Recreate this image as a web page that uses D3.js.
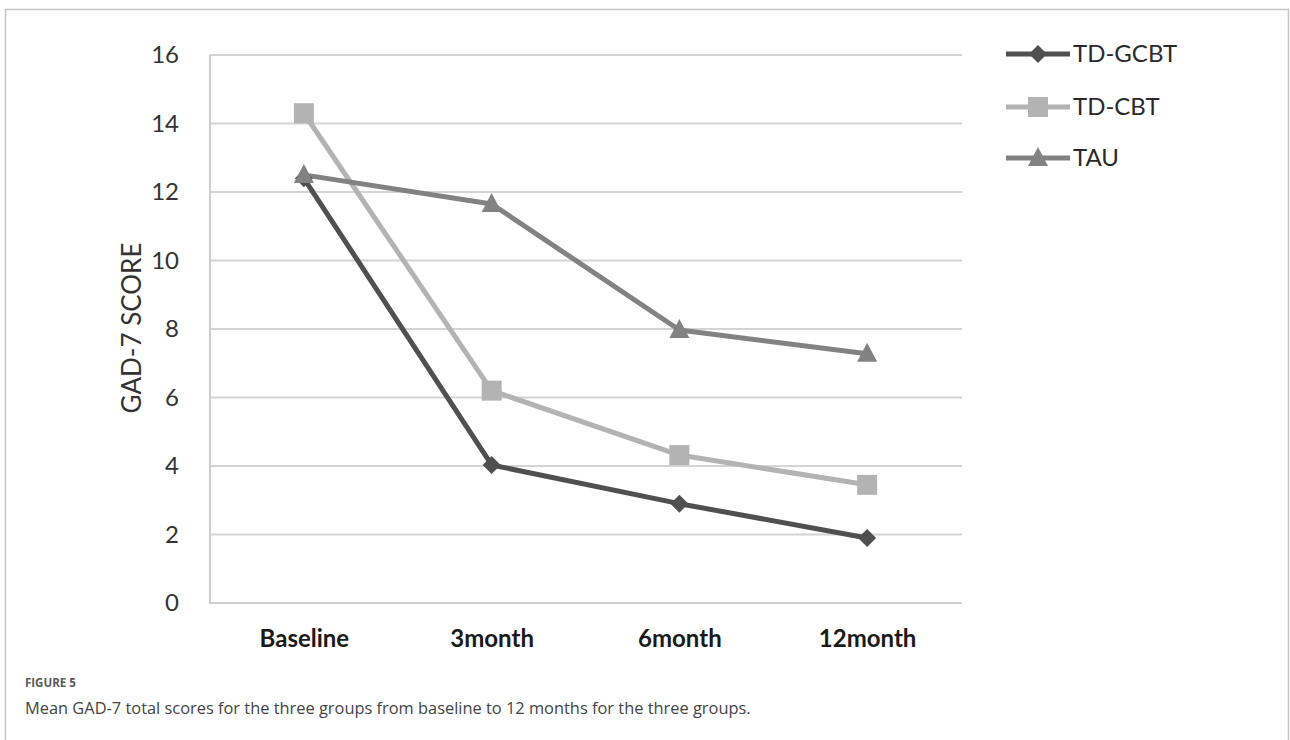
<!DOCTYPE html>
<html>
<head>
<meta charset="utf-8">
<script src="https://cdn.jsdelivr.net/npm/d3@7"></script>
<style>
  html, body { margin: 0; padding: 0; background: #fff; }
  svg { display: block; }
</style>
</head>
<body>
<svg id="chart" width="1290" height="740"></svg>
<script>
const categories = ["Baseline", "3month", "6month", "12month"];
const seriesNames = ["TD-GCBT", "TD-CBT", "TAU"];
const tdGcbt = [12.4, 4.03, 2.9, 1.9];
const tdCbt = [14.3, 6.2, 4.32, 3.45];
const tau = [12.5, 11.65, 7.97, 7.28];
const yTicks = [0, 2, 4, 6, 8, 10, 12, 14, 16];
const yTitle = "GAD-7 SCORE";
const figLabel = "FIGURE 5";
const captionText = "Mean GAD-7 total scores for the three groups from baseline to 12 months for the three groups.";

const series = [
  { name: seriesNames[0], values: tdGcbt, color: "#505050", shape: "diamond" },
  { name: seriesNames[1], values: tdCbt, color: "#b3b3b3", shape: "square" },
  { name: seriesNames[2], values: tau, color: "#828282", shape: "triangle" }
];

const svg = d3.select("#chart");
const tickFont = "Lato, 'Open Sans', sans-serif";

// outer frame
svg.append("path")
  .attr("d", "M5.5,740 V9.5 H1288.5 V740")
  .attr("fill", "none").attr("stroke", "#c4c4c4").attr("stroke-width", 1.5);

const x = d3.scalePoint().domain(categories).range([210, 961]).padding(0.5);
const y = d3.scaleLinear().domain([0, 16]).range([603, 55]);

// gridlines
svg.append("g").selectAll("line").data(yTicks.filter(d => d > 0)).join("line")
  .attr("x1", 210).attr("x2", 962)
  .attr("y1", d => y(d)).attr("y2", d => y(d))
  .attr("stroke", "#d4d4d4").attr("stroke-width", 2);

// axes lines
svg.append("line").attr("x1", 210).attr("x2", 210).attr("y1", 55).attr("y2", 603)
  .attr("stroke", "#cfcfcf").attr("stroke-width", 2);
svg.append("line").attr("x1", 209).attr("x2", 962).attr("y1", 603).attr("y2", 603)
  .attr("stroke", "#cfcfcf").attr("stroke-width", 2);

// y tick labels
const yAxis = d3.axisLeft(y).tickValues(yTicks).tickSize(0).tickPadding(0);
const gy = svg.append("g").attr("transform", "translate(179,0)").call(yAxis);
gy.select(".domain").remove();
gy.selectAll("text").attr("font-family", tickFont).attr("font-size", 24)
  .attr("fill", "#333");

// x tick labels
const xAxis = d3.axisBottom(x).tickSize(0).tickPadding(0);
const gx = svg.append("g").attr("transform", "translate(0,630)").call(xAxis);
gx.select(".domain").remove();
gx.selectAll("text").attr("font-family", tickFont).attr("font-size", 24)
  .attr("font-weight", "bold").attr("fill", "#1a1a1a");

// y title
svg.append("text")
  .attr("transform", "translate(132,328) rotate(-90)")
  .attr("text-anchor", "middle")
  .attr("dy", "0.35em")
  .attr("font-family", tickFont).attr("font-size", 26)
  .attr("fill", "#333").text(yTitle);

function markerPath(shape) {
  if (shape === "diamond") return "M0,-9 L9,0 L0,9 L-9,0 Z";
  if (shape === "square") return "M-10,-10 H10 V10 H-10 Z";
  return "M0,-11 L10,8 L-10,8 Z";
}

const line = d3.line().x((d, i) => x(categories[i])).y(d => y(d));

const gl = svg.append("g");
series.forEach(s => {
  gl.append("path").datum(s.values)
    .attr("d", line).attr("fill", "none")
    .attr("stroke", s.color).attr("stroke-width", 5)
    .attr("stroke-linejoin", "round");
});
series.forEach(s => {
  gl.append("g").selectAll("path").data(s.values).join("path")
    .attr("transform", (d, i) => `translate(${x(categories[i])},${y(d)})`)
    .attr("d", markerPath(s.shape))
    .attr("fill", s.color);
});

// legend
const legendY = [54, 107, 158];
const lg = svg.append("g");
series.forEach((s, i) => {
  const g = lg.append("g").attr("transform", `translate(1006,${legendY[i]})`);
  g.append("line").attr("x1", 0).attr("x2", 64).attr("y1", 0).attr("y2", 0)
    .attr("stroke", s.color).attr("stroke-width", 5);
  g.append("path").attr("transform", "translate(32,0)")
    .attr("d", markerPath(s.shape)).attr("fill", s.color);
  g.append("text").attr("x", 67).attr("y", 0).attr("dy", "0.35em")
    .attr("font-family", tickFont).attr("font-size", 24)
    .attr("fill", "#2a2a2a").text(s.name);
});

// caption
svg.append("text").attr("x", 25).attr("y", 687)
  .attr("font-family", "'Open Sans', sans-serif").attr("font-size", 11.5)
  .attr("font-weight", "bold").attr("fill", "#5a5a5a").text(figLabel);
svg.append("text").attr("x", 25).attr("y", 714)
  .attr("font-family", "'Open Sans', sans-serif").attr("font-size", 16.4)
  .attr("fill", "#444").text(captionText);
</script>
</body>
</html>
